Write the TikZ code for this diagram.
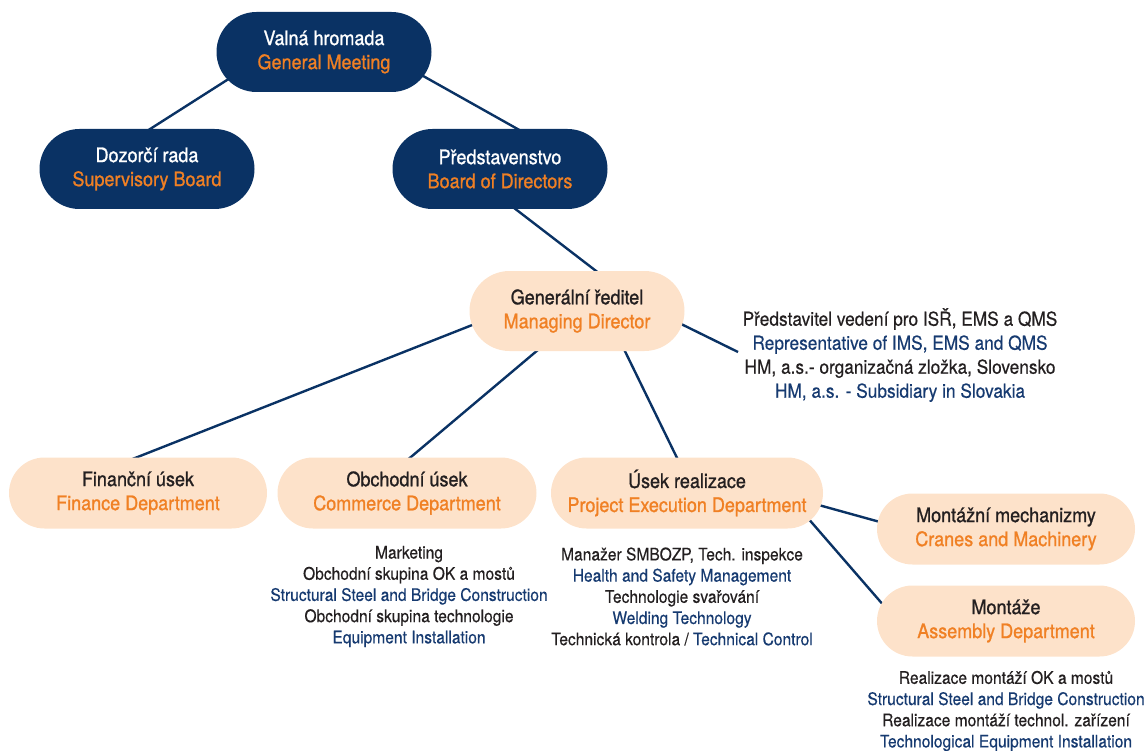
\documentclass[tikz,border=0pt]{standalone}
\usepackage{fontspec}
\setmainfont{TeX Gyre Heros}[FakeStretch=0.9, FakeBold=0.4]
\newfontfamily\medfont{TeX Gyre Heros}[FakeStretch=0.9, FakeBold=1.0]
\usetikzlibrary{shapes.misc,calc,backgrounds}
\definecolor{navy}{RGB}{10,50,100}
\definecolor{navytext}{RGB}{22,58,112}
\definecolor{orangetext}{RGB}{240,128,36}
\definecolor{peach}{RGB}{253,226,202}
\definecolor{blacktext}{RGB}{35,31,32}
\tikzset{
  darkbox/.style={rounded rectangle, fill=navy, text=white, minimum width=215pt, minimum height=80pt, inner sep=0pt, align=center, font=\medfont\fontsize{20}{24}\selectfont},
  lightbox/.style={rounded rectangle, fill=peach, text=blacktext, minimum width=258pt, minimum height=71pt, inner sep=0pt, align=center, font=\medfont\fontsize{20}{24}\selectfont},
  conn/.style={draw=navy, line width=2.4pt},
  info/.style={align=center, text=blacktext, inner sep=0pt, font=\fontsize{17.3}{21.2}\selectfont},
}
\newcommand{\nv}[1]{\textcolor{navytext}{#1}}
\newcommand{\og}[1]{\textcolor{orangetext}{#1}}
\begin{document}
\begin{tikzpicture}[x=1pt,y=-1pt]
\useasboundingbox (0,0) rectangle (1147,751);
\node[darkbox] (vh) at (324,52) {Valná hromada\\\og{General Meeting}};
\node[darkbox] (dr) at (147,169) {Dozorčí rada\\\og{Supervisory Board}};
\node[darkbox] (ps) at (500,169) {Představenstvo\\\og{Board of Directors}};
\node[lightbox, minimum width=215pt, minimum height=80pt] (gr) at (577,311) {Generální ředitel\\\og{Managing Director}};
\node[lightbox] (fin) at (138,493) {Finanční úsek\\\og{Finance Department}};
\node[lightbox, minimum width=259pt] (ob) at (407,493) {Obchodní úsek\\\og{Commerce Department}};
\node[lightbox, minimum width=272pt] (ur) at (687,493) {Úsek realizace\\\og{Project Execution Department}};
\node[lightbox] (mm) at (1006,529) {Montážní mechanizmy\\\og{Cranes and Machinery}};
\node[lightbox] (mo) at (1006,621) {Montáže\\\og{Assembly Department}};

\node[info, font=\fontsize{19.2}{24}\selectfont] (rep) at (900,355) {Představitel vedení pro ISŘ, EMS a QMS\\\nv{Representative of IMS, EMS and QMS}\\HM, a.s.- organizačná zložka, Slovensko\\\nv{HM, a.s. - Subsidiary in Slovakia}};
\coordinate (repend) at (738,352);
\node[info] (obtxt) at (409,596.5) {Marketing\\Obchodní skupina OK a mostů\\\nv{Structural Steel and Bridge Construction}\\Obchodní skupina technologie\\\nv{Equipment Installation}};
\node[info] (urtxt) at (682,596.5) {Manažer SMBOZP, Tech. inspekce\\\nv{Health and Safety Management}\\Technologie svařování\\\nv{Welding Technology}\\Technická kontrola / \nv{Technical Control}};
\node[info] (motxt) at (1006,711) {Realizace montáží OK a mostů\\\nv{Structural Steel and Bridge Construction}\\Realizace montáží technol. zařízení\\\nv{Technological Equipment Installation}};

\begin{scope}[on background layer]
\draw[conn] ($(vh)+(-64,7)$) -- ($(dr)+(0,-38)$);
\draw[conn] ($(vh)+(76,11)$) -- ($(ps)+(30,-33)$);
\draw[conn] ($(ps)+(5,32)$) -- ($(gr)+(23,-37)$);
\draw[conn] ($(gr)+(-87,7)$) -- ($(fin)+(-8,-33)$);
\draw[conn] ($(gr)+(-32,33)$) -- ($(ob)+(-2,-31)$);
\draw[conn] ($(gr)+(43,30)$) -- ($(ur)+(-8,-31)$);
\draw[conn] ($(gr)+(98,10)$) -- (repend);
\draw[conn] ($(ur)+(128,11)$) -- ($(mm)+(-126,-7)$);
\draw[conn] ($(ur)+(113,16)$) -- ($(mo)+(-121,-14)$);
\end{scope}
\end{tikzpicture}
\end{document}
